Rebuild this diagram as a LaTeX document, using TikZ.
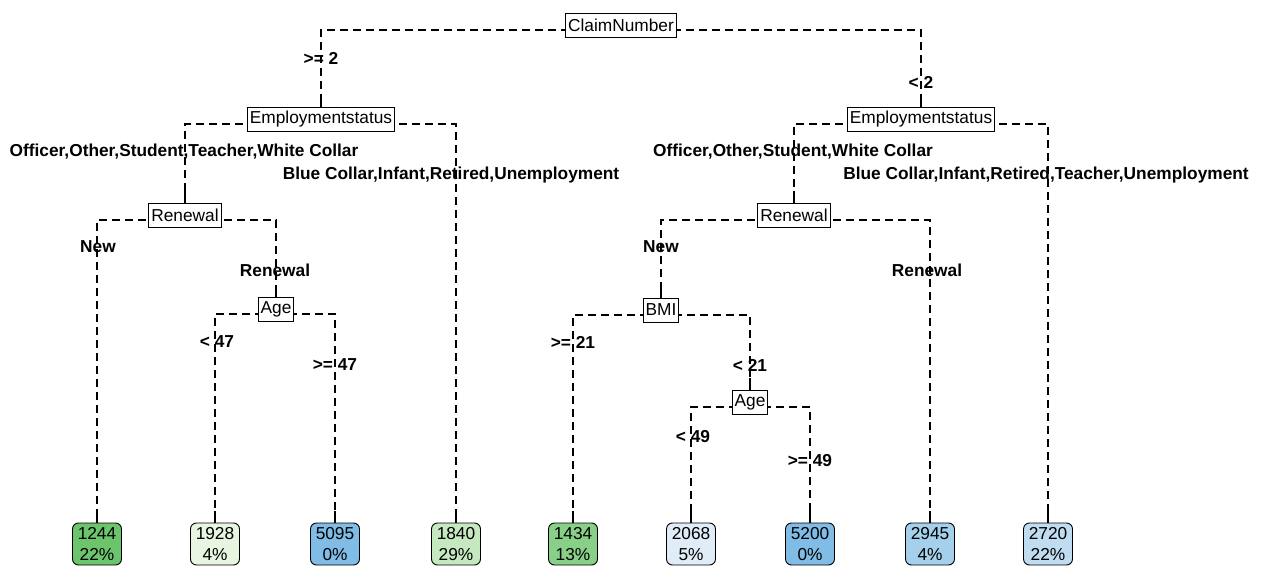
\documentclass[tikz,border=0pt]{standalone}
\usepackage{fontspec}
\setmainfont{Liberation Sans}
\usetikzlibrary{backgrounds}
\definecolor{cA}{HTML}{6CC46C}
\definecolor{cB}{HTML}{E8F5E0}
\definecolor{cC}{HTML}{80BCE6}
\definecolor{cD}{HTML}{C6E8C0}
\definecolor{cE}{HTML}{88D088}
\definecolor{cF}{HTML}{E0ECF7}
\definecolor{cG}{HTML}{A4D0EC}
\definecolor{cH}{HTML}{C0DCF0}
\tikzset{
  split/.style={draw=black, line width=0.9pt, fill=white, font=\fontsize{17.3}{19}\selectfont,
    minimum height=24pt, inner xsep=2.5pt, inner ysep=0pt},
  leaf/.style={draw=black, line width=0.9pt, rectangle, rounded corners=6pt,
    minimum width=49pt, minimum height=42pt, text width=45pt, align=center, inner sep=0pt,
    font=\fontsize{17.3}{21.5}\selectfont},
  lbl/.style={font=\bfseries\fontsize{17.3}{19}\selectfont, inner sep=0pt, anchor=center},
  branch/.style={line width=1.1pt, dash pattern=on 8pt off 5pt},
  stub/.style={line width=1.1pt}
}
\newcommand{\conn}[2]{%
  \draw[branch] ([yshift=-5pt]#1.center) -| ([yshift=12pt]#2.north);
  \draw[stub] ([yshift=12pt]#2.north) -- (#2.north);}
\begin{document}
\begin{tikzpicture}[x=1pt,y=-1pt]
\useasboundingbox (0,0) rectangle (1261,567);
% split nodes
\node[split] (root) at (621,25) {ClaimNumber};
\node[split] (lemp) at (321,119) {Employmentstatus};
\node[split] (remp) at (921,119) {Employmentstatus};
\node[split] (lren) at (185,215) {Renewal};
\node[split] (lage) at (276,309) {Age};
\node[split] (rren) at (794,215) {Renewal};
\node[split] (bmi) at (661,310) {BMI};
\node[split] (rage) at (750,402) {Age};
% leaves
\node[leaf, fill=cA] (l1) at (97,544) {1244\\22\%};
\node[leaf, fill=cB] (l2) at (215,544) {1928\\4\%};
\node[leaf, fill=cC] (l3) at (335,544) {5095\\0\%};
\node[leaf, fill=cD] (l4) at (456,544) {1840\\29\%};
\node[leaf, fill=cE] (l5) at (573,544) {1434\\13\%};
\node[leaf, fill=cF] (l6) at (691,544) {2068\\5\%};
\node[leaf, fill=cC] (l7) at (810,544) {5200\\0\%};
\node[leaf, fill=cG] (l8) at (930,544) {2945\\4\%};
\node[leaf, fill=cH] (l9) at (1048,544) {2720\\22\%};
% connectors
\begin{scope}[on background layer]
\conn{root}{lemp}
\conn{root}{remp}
\conn{lemp}{lren}
\conn{lemp}{l4}
\conn{lren}{l1}
\conn{lren}{lage}
\conn{lage}{l2}
\conn{lage}{l3}
\conn{remp}{rren}
\conn{remp}{l9}
\conn{rren}{bmi}
\conn{rren}{l8}
\conn{bmi}{l5}
\conn{bmi}{rage}
\conn{rage}{l6}
\conn{rage}{l7}
\end{scope}
% labels
\node[lbl] (t1) at (321,58) {>= 2};
\node[lbl] (t2) at (921,82) {< 2};
\node[lbl] (t3) at (184,152) {Officer,Other,Student,Teacher,White Collar};
\node[lbl] (t4) at (451,175) {Blue Collar,Infant,Retired,Unemployment};
\node[lbl] (t5) at (793,152) {Officer,Other,Student,White Collar};
\node[lbl] (t6) at (1046,175) {Blue Collar,Infant,Retired,Teacher,Unemployment};
\node[lbl] (t7) at (98,247) {New};
\node[lbl] (t8) at (275,270) {Renewal};
\node[lbl] (t9) at (217,342) {< 47};
\node[lbl] (t10) at (335,365) {>= 47};
\node[lbl] (t11) at (661,247) {New};
\node[lbl] (t12) at (927,270) {Renewal};
\node[lbl] (t13) at (573,342) {>= 21};
\node[lbl] (t14) at (750,365) {< 21};
\node[lbl] (t15) at (693,437) {< 49};
\node[lbl] (t16) at (810,461) {>= 49};
\end{tikzpicture}
\end{document}
